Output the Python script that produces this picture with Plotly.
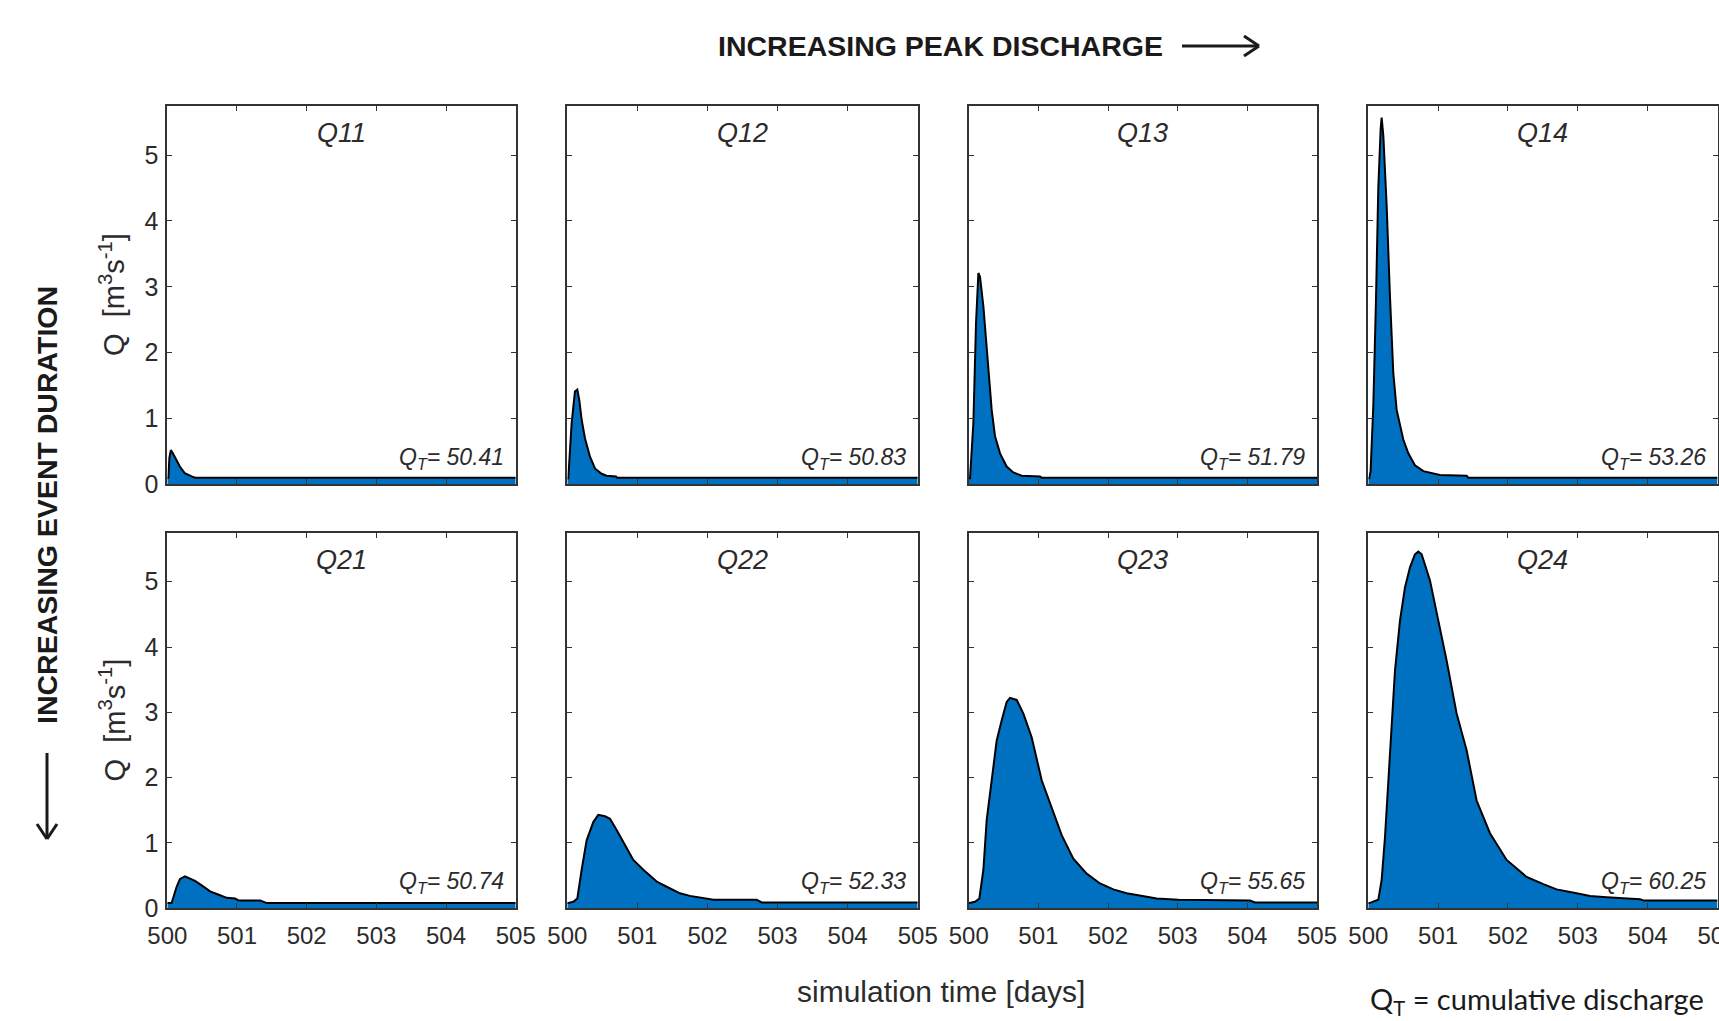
import plotly.graph_objects as go

W, H = 1719, 1021

# ---------------- data ----------------
panel_names = ["Q11", "Q12", "Q13", "Q14", "Q21", "Q22", "Q23", "Q24"]
qt_values = ["50.41", "50.83", "51.79", "53.26", "50.74", "52.33", "55.65", "60.25"]
x_ticks = [500, 501, 502, 503, 504, 505]
y_ticks = [0, 1, 2, 3, 4, 5]

t_q11 = [500.0, 500.015, 500.03, 500.05, 500.08, 500.13, 500.18, 500.25, 500.30, 500.35, 500.40, 505.0]
q_q11 = [0.09, 0.10, 0.40, 0.52, 0.47, 0.37, 0.27, 0.17, 0.14, 0.12, 0.10, 0.10]

t_q12 = [500.0, 500.014, 500.062, 500.109, 500.143, 500.171, 500.205, 500.252, 500.324, 500.395,
         500.49, 500.56, 500.695, 500.71, 505.0]
q_q12 = [0.09, 0.09, 0.93, 1.41, 1.44, 1.28, 0.98, 0.70, 0.42, 0.24, 0.16, 0.13, 0.12, 0.10, 0.10]

t_q13 = [500.0, 500.019, 500.067, 500.105, 500.139, 500.163, 500.211, 500.249, 500.282, 500.33,
         500.378, 500.45, 500.545, 500.641, 500.761, 501.024, 501.048, 505.0]
q_q13 = [0.09, 0.09, 0.93, 2.44, 3.21, 3.15, 2.70, 2.20, 1.69, 1.13,
         0.73, 0.47, 0.27, 0.18, 0.13, 0.12, 0.10, 0.10]

t_q14 = [500.0, 500.014, 500.033, 500.072, 500.11, 500.143, 500.177, 500.191, 500.215, 500.263,
         500.31, 500.358, 500.406, 500.453, 500.501, 500.573, 500.668, 500.788, 500.931, 501.026,
         501.408, 501.432, 505.0]
q_q14 = [0.09, 0.09, 0.20, 1.20, 2.80, 4.50, 5.40, 5.57, 5.30, 4.23,
         2.86, 1.69, 1.13, 0.88, 0.68, 0.47, 0.29, 0.20, 0.16, 0.14,
         0.13, 0.10, 0.10]

t_q21 = [500.0, 500.014, 500.062, 500.134, 500.182, 500.254, 500.326, 500.398, 500.494, 500.614,
         500.757, 500.853, 500.973, 501.021, 501.333, 501.429, 505.0]
q_q21 = [0.08, 0.08, 0.08, 0.33, 0.45, 0.49, 0.45, 0.42, 0.35, 0.26,
         0.20, 0.16, 0.15, 0.12, 0.12, 0.08, 0.08]

t_q22 = [500.0, 500.014, 500.086, 500.143, 500.205, 500.276, 500.371, 500.442, 500.538, 500.609,
         500.704, 500.799, 500.942, 501.085, 501.275, 501.418, 501.608, 501.751, 501.893, 502.084,
         502.702, 502.774, 505.0]
q_q22 = [0.08, 0.08, 0.10, 0.15, 0.59, 1.04, 1.32, 1.43, 1.41, 1.37,
         1.20, 1.02, 0.74, 0.59, 0.41, 0.33, 0.23, 0.19, 0.16, 0.13,
         0.13, 0.09, 0.09]

t_q23 = [500.0, 500.01, 500.091, 500.153, 500.211, 500.258, 500.33, 500.402, 500.474, 500.545,
         500.593, 500.689, 500.785, 500.904, 501.048, 501.191, 501.335, 501.502, 501.694, 501.885,
         502.077, 502.268, 502.507, 502.699, 503.01, 504.038, 504.11, 505.0]
q_q23 = [0.08, 0.08, 0.10, 0.15, 0.59, 1.35, 1.96, 2.57, 2.88, 3.16,
         3.22, 3.19, 2.98, 2.62, 1.96, 1.55, 1.12, 0.76, 0.53, 0.38,
         0.29, 0.23, 0.18, 0.15, 0.13, 0.12, 0.09, 0.09]

t_q24 = [500.0, 500.014, 500.143, 500.191, 500.239, 500.31, 500.382, 500.453, 500.525, 500.597,
         500.668, 500.716, 500.764, 500.883, 501.002, 501.122, 501.265, 501.408, 501.551, 501.742,
         501.981, 502.267, 502.506, 502.697, 502.983, 503.174, 503.413, 503.89, 503.938, 505.0]
q_q24 = [0.08, 0.08, 0.13, 0.43, 1.09, 2.37, 3.64, 4.40, 4.91, 5.22,
         5.42, 5.46, 5.42, 5.02, 4.40, 3.79, 2.98, 2.42, 1.65, 1.15,
         0.74, 0.48, 0.37, 0.29, 0.23, 0.19, 0.17, 0.14, 0.12, 0.12]

series_t = [t_q11, t_q12, t_q13, t_q14, t_q21, t_q22, t_q23, t_q24]
series_q = [q_q11, q_q12, q_q13, q_q14, q_q21, q_q22, q_q23, q_q24]

# ---------------- layout (pixels) ----------------
col_px = [(167.3, 515.7), (567.3, 917.7), (968.7, 1317.0), (1368.3, 1717.5)]
row_px = [(105.7, 484.3), (532.7, 908.3)]

FILL = "#0070C0"
TXT = "#2b2b2b"
FONT = "Liberation Sans, Arial, sans-serif"

fig = go.Figure()
layout = dict(
    width=W, height=H, autosize=False,
    margin=dict(l=0, r=0, t=0, b=0, pad=0, autoexpand=False),
    paper_bgcolor="white", plot_bgcolor="white",
    showlegend=False,
    font=dict(family=FONT, color=TXT),
)

annotations = []
shapes = []

for i in range(8):
    r, c = divmod(i, 4)
    k = i + 1
    xa = "x" if k == 1 else f"x{k}"
    ya = "y" if k == 1 else f"y{k}"
    x0, x1 = col_px[c]
    y0, y1 = row_px[r]
    fig.add_trace(go.Scatter(
        x=series_t[i], y=series_q[i], mode="lines",
        fill="tozeroy", fillcolor=FILL,
        line=dict(color="black", width=2),
        xaxis=xa, yaxis=ya, hoverinfo="skip",
    ))
    layout["xaxis" if k == 1 else f"xaxis{k}"] = dict(
        domain=[x0 / W, x1 / W], anchor=ya, range=[500, 505],
        tickvals=x_ticks, ticktext=[str(v) for v in x_ticks],
        ticks="inside", ticklen=5, tickwidth=1.3, tickcolor="#333",
        showline=True, linecolor="#333", linewidth=1.7, mirror="ticks",
        showgrid=False, zeroline=False, automargin=False,
        showticklabels=(r == 1), tickfont=dict(size=24, color=TXT, family=FONT),
        ticklabelstandoff=5, ticklabeloverflow="allow",
    )
    layout["yaxis" if k == 1 else f"yaxis{k}"] = dict(
        domain=[1 - y1 / H, 1 - y0 / H], anchor=xa, range=[0, 5.75],
        tickvals=y_ticks, ticktext=[str(v) for v in y_ticks],
        ticks="inside", ticklen=5, tickwidth=1.3, tickcolor="#333",
        showline=True, linecolor="#333", linewidth=1.7, mirror="ticks",
        showgrid=False, zeroline=False, automargin=False,
        showticklabels=(c == 0), tickfont=dict(size=25, color=TXT, family=FONT),
        ticklabelstandoff=2,
    )
    # panel title
    annotations.append(dict(
        x=(x0 + x1) / 2 / W, y=1 - (y0 + 27) / H, xref="paper", yref="paper",
        text=f"<i>{panel_names[i]}</i>", showarrow=False,
        xanchor="center", yanchor="middle",
        font=dict(size=27, color=TXT, family=FONT),
    ))
    # cumulative discharge label
    annotations.append(dict(
        x=(x1 - 10) / W, y=1 - (y1 - 26) / H, xref="paper", yref="paper",
        text=f"<i>Q<sub>T</sub>= {qt_values[i]}</i>", showarrow=False,
        xanchor="right", yanchor="middle",
        font=dict(size=23, color=TXT, family=FONT),
    ))

# y-axis labels
for r in range(2):
    y0, y1 = row_px[r]
    annotations.append(dict(
        x=112 / W, y=1 - (y0 + y1) / 2 / H, xref="paper", yref="paper",
        text="Q  [m<sup>3</sup>s<sup>-1</sup>]", showarrow=False, textangle=-90,
        xanchor="center", yanchor="middle",
        font=dict(size=29, color=TXT, family=FONT),
    ))

# x-axis label
annotations.append(dict(
    x=941 / W, y=1 - 991 / H, xref="paper", yref="paper",
    text="simulation time [days]", showarrow=False,
    xanchor="center", yanchor="middle",
    font=dict(size=30, color=TXT, family=FONT),
))

# big titles
annotations.append(dict(
    x=940 / W, y=1 - 46 / H, xref="paper", yref="paper",
    text="<b>INCREASING PEAK DISCHARGE</b>", showarrow=False,
    xanchor="center", yanchor="middle",
    font=dict(size=28.5, color="#1a1a1a", family=FONT),
))
annotations.append(dict(
    x=47 / W, y=1 - 505 / H, xref="paper", yref="paper",
    text="<b>INCREASING EVENT DURATION</b>", showarrow=False, textangle=-90,
    xanchor="center", yanchor="middle",
    font=dict(size=28.5, color="#1a1a1a", family=FONT),
))

# legend note
annotations.append(dict(
    x=1368 / W, y=1 - 1000 / H, xref="paper", yref="paper",
    text="Q<sub>T</sub> = cumulative discharge", showarrow=False,
    xanchor="left", yanchor="middle",
    font=dict(size=29, color="#1a1a1a", family="Lato, Open Sans, sans-serif"),
))

# arrows (decorations in pixel/paper space)
def pline(xa, ya, xb, yb):
    shapes.append(dict(type="line", xref="paper", yref="paper",
                       x0=xa / W, y0=1 - ya / H, x1=xb / W, y1=1 - yb / H,
                       line=dict(color="#1a1a1a", width=3)))

# horizontal arrow
pline(1182, 46, 1258, 46)
pline(1244, 36, 1259, 46)
pline(1244, 56, 1259, 46)
# vertical arrow
pline(47, 753, 47, 838)
pline(37, 824, 47, 839)
pline(57, 824, 47, 839)

layout["annotations"] = annotations
layout["shapes"] = shapes
fig.update_layout(**layout)
fig.write_html("out.html")
